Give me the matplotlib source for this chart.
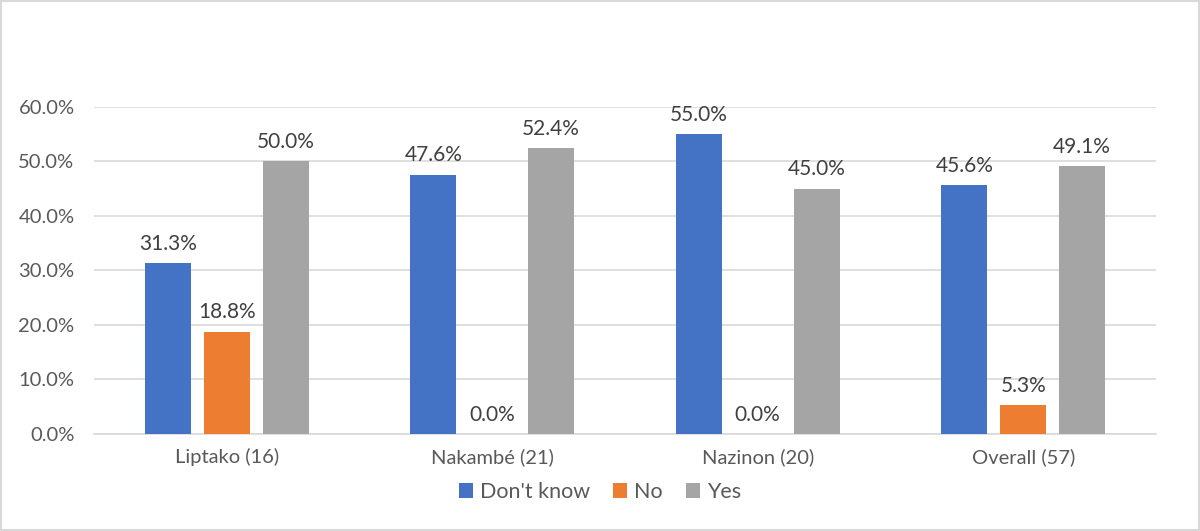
import matplotlib.pyplot as plt
import numpy as np

categories = ['Liptako (16)', 'Nakambé (21)', 'Nazinon (20)', 'Overall (57)']
dont_know = [31.3, 47.6, 55.0, 45.6]
no = [18.8, 0.0, 0.0, 5.3]
yes = [50.0, 52.4, 45.0, 49.1]

series = [("Don't know", dont_know, '#4472C4'),
          ('No', no, '#ED7D31'),
          ('Yes', yes, '#A5A5A5')]

plt.rcParams['font.family'] = ['Lato', 'DejaVu Sans']
txt = '#595959'

fig = plt.figure(figsize=(12, 5.31), dpi=100)
ax = fig.add_axes([0.0783, 0.1827, 0.885, 0.6158])

x = np.arange(len(categories))
w = 0.173
step = 0.222
for i, (name, vals, col) in enumerate(series):
    pos = x + (i - 1) * step
    bars = ax.bar(pos, vals, w, color=col, label=name, zorder=3)
    for b, v in zip(bars, vals):
        ax.text(b.get_x() + b.get_width() / 2, v + 1.7, f'{v:.1f}%',
                ha='center', va='bottom', fontsize=15, color='#404040')

ax.set_xlim(-0.5, len(categories) - 0.5)
ax.set_ylim(0, 60)
ax.set_yticks(range(0, 61, 10))
ax.set_yticklabels([f'{t:.1f}%' for t in range(0, 61, 10)])
ax.set_xticks(x)
ax.set_xticklabels(categories)
ax.tick_params(axis='both', length=0, labelsize=14.5, colors=txt)
ax.tick_params(axis='y', pad=14)
ax.tick_params(axis='x', pad=10)
ax.grid(axis='y', color='#D9D9D9', linewidth=1.2, zorder=0)
for s in ['top', 'right', 'left']:
    ax.spines[s].set_visible(False)
ax.spines['bottom'].set_color('#D9D9D9')
ax.spines['bottom'].set_linewidth(1.2)

leg = fig.legend(loc='center', bbox_to_anchor=(0.5, 0.073), ncol=3, frameon=False,
                 fontsize=15.5, handlelength=0.65, handleheight=0.65,
                 handletextpad=0.3, columnspacing=1.1)
for t in leg.get_texts():
    t.set_color(txt)

fig.patches.append(plt.Rectangle((0.001, 0.002), 0.998, 0.996, transform=fig.transFigure,
                                 fill=False, edgecolor='#D9D9D9', linewidth=1.5))

fig.savefig('out.png', dpi=100)
